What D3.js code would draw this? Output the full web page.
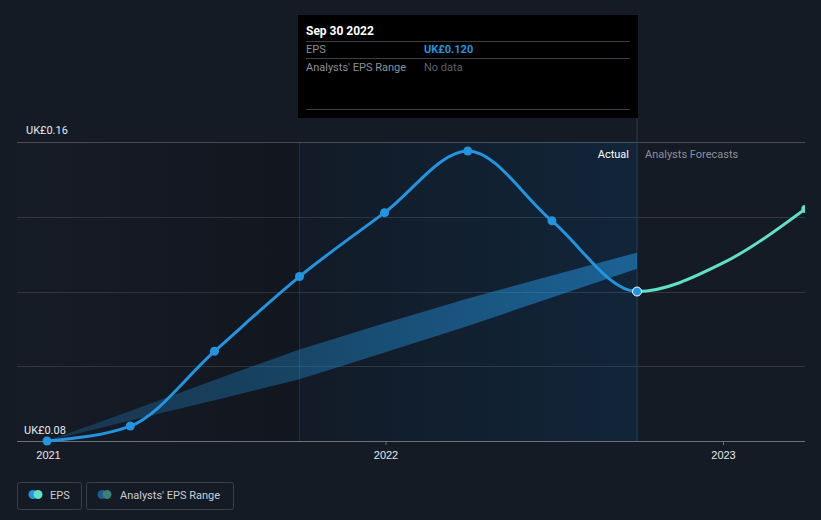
<!DOCTYPE html>
<html><head><meta charset="utf-8">
<script src="https://cdn.jsdelivr.net/npm/d3@7"></script>
<style>
html,body{margin:0;padding:0;background:#151b25;}
svg{display:block;font-family:Roboto,"Noto Sans",sans-serif;}
</style></head>
<body>
<svg id="c" width="821" height="520"></svg>
<script>
// ---- data ----
const actualDates = ["2020-12-31","2021-03-31","2021-06-30","2021-09-30","2021-12-31","2022-03-31","2022-06-30","2022-09-30"];
const actualEPS   = [0.0800, 0.0840, 0.1040, 0.1240, 0.1411, 0.1576, 0.1389, 0.1200];
const forecastDates = ["2022-09-30","2022-12-31","2023-03-31"];
const forecastEPS   = [0.1200, 0.1275, 0.1421];
const rangeDates = ["2020-12-31","2021-03-31","2021-06-30","2021-09-30","2021-12-31","2022-03-31","2022-06-30","2022-09-30"];
const rangeLow   = [0.0800, 0.0855, 0.0909, 0.0965, 0.1037, 0.1108, 0.1184, 0.1261];
const rangeHigh  = [0.0800, 0.0880, 0.0963, 0.1045, 0.1115, 0.1181, 0.1243, 0.1304];
const yTicks = [0.08, 0.10, 0.12, 0.14, 0.16];
const yTickLabels = ["UK£0.08", "UK£0.16"];
const xTickYears = ["2021","2022","2023"];
const tooltipDate = "Sep 30 2022";
const tooltipEPS = "UK£0.120";

// ---- setup ----
const P = d3.timeParse("%Y-%m-%d");
const svg = d3.select("#c");
const W = 821, H = 520;
const plotL = 17, plotR = 805, plotT = 142, plotB = 441;
const x = d3.scaleTime().domain([new Date(2021,0,1), new Date(2023,0,1)]).range([48, 723]);
const y = d3.scaleLinear().domain([0.08, 0.16]).range([plotB, plotT]);

const actual = actualDates.map((d,i)=>({d:P(d), v:actualEPS[i]}));
const forecast = forecastDates.map((d,i)=>({d:P(d), v:forecastEPS[i]}));
const allPts = actual.concat(forecast.slice(1));
const range = rangeDates.map((d,i)=>({d:P(d), lo:rangeLow[i], hi:rangeHigh[i]}));
const nowX = x(P(actualDates[actualDates.length-1]));
const shadeStartX = x(P("2021-09-30"));

svg.append("rect").attr("width",W).attr("height",H).attr("fill","#151b25");

const defs = svg.append("defs");
const g1 = defs.append("linearGradient").attr("id","gLeft").attr("x1","0").attr("x2","1").attr("y1","0").attr("y2","0");
g1.append("stop").attr("offset","0").attr("stop-color","#161c26");
g1.append("stop").attr("offset","1").attr("stop-color","#11161f");
const g2 = defs.append("linearGradient").attr("id","gMid").attr("x1","0").attr("x2","1").attr("y1","0").attr("y2","0");
g2.append("stop").attr("offset","0").attr("stop-color","#121b27");
g2.append("stop").attr("offset","1").attr("stop-color","#112539");
const g3 = defs.append("linearGradient").attr("id","gBand").attr("gradientUnits","userSpaceOnUse")
  .attr("x1", x(range[0].d)).attr("x2", nowX).attr("y1",0).attr("y2",0);
g3.append("stop").attr("offset","0").attr("stop-color","#2394df").attr("stop-opacity",0.22);
g3.append("stop").attr("offset","1").attr("stop-color","#2394df").attr("stop-opacity",0.55);
defs.append("clipPath").attr("id","clipPast").append("rect").attr("x",0).attr("y",0).attr("width",nowX).attr("height",H);
defs.append("clipPath").attr("id","clipFut").append("rect").attr("x",nowX).attr("y",0).attr("width",plotR-nowX).attr("height",H);

// background regions
svg.append("rect").attr("x",plotL).attr("y",plotT).attr("width",shadeStartX-plotL).attr("height",plotB-plotT).attr("fill","url(#gLeft)");
svg.append("rect").attr("x",shadeStartX).attr("y",plotT).attr("width",nowX-shadeStartX).attr("height",plotB-plotT).attr("fill","url(#gMid)");
svg.append("line").attr("x1",shadeStartX).attr("x2",shadeStartX).attr("y1",plotT).attr("y2",plotB).attr("stroke","#1a3048").attr("stroke-width",1);

// gridlines
svg.append("g").selectAll("line").data(yTicks.slice(1)).join("line")
  .attr("x1",plotL).attr("x2",plotR).attr("y1",d=>Math.round(y(d))+0.5).attr("y2",d=>Math.round(y(d))+0.5)
  .attr("stroke","#ffffff").attr("stroke-opacity",d=>d===0.16?0.22:0.12);

// now line
svg.append("line").attr("x1",nowX).attr("x2",nowX).attr("y1",118).attr("y2",plotB).attr("stroke","#2c3d50").attr("stroke-width",1);

// band
svg.append("path").datum(range)
  .attr("d", d3.area().x(d=>x(d.d)).y0(d=>y(d.lo)).y1(d=>y(d.hi)))
  .attr("fill","url(#gBand)");

// x axis
const xAxis = d3.axisBottom(x).tickValues(xTickYears.map(s=>new Date(+s,0,1))).tickFormat(d3.timeFormat("%Y")).tickSize(4).tickPadding(6);
const ax = svg.append("g").attr("transform",`translate(0,${plotB})`).call(xAxis);
ax.select(".domain").remove();
ax.selectAll(".tick line").attr("stroke","#6b717b");
ax.selectAll(".tick text").attr("fill","#e6e8eb").attr("font-size",11);
svg.append("line").attr("x1",plotL).attr("x2",plotR).attr("y1",plotB+0.5).attr("y2",plotB+0.5).attr("stroke","#6b717b");

// y labels
svg.append("text").attr("x",26).attr("y",y(0.16)-8).attr("fill","#e6e8eb").attr("font-size",11).text(yTickLabels[1]);
svg.append("text").attr("x",24).attr("y",y(0.08)-7).attr("fill","#e6e8eb").attr("font-size",11).text(yTickLabels[0]);

// EPS line
const line = d3.line().x(d=>x(d.d)).y(d=>y(d.v)).curve(d3.curveMonotoneX);
svg.append("path").datum(allPts).attr("d",line).attr("fill","none").attr("stroke","#2394df").attr("stroke-width",3).attr("clip-path","url(#clipPast)");
svg.append("path").datum(allPts).attr("d",line).attr("fill","none").attr("stroke","#61e0c8").attr("stroke-width",3).attr("clip-path","url(#clipFut)");
svg.append("g").attr("clip-path","url(#clipFut)").append("circle")
  .attr("cx",x(forecast[forecast.length-1].d)).attr("cy",y(forecast[forecast.length-1].v)).attr("r",4).attr("fill","#61e0c8");

svg.append("g").selectAll("circle").data(actual.slice(0,-1)).join("circle")
  .attr("cx",d=>x(d.d)).attr("cy",d=>y(d.v)).attr("r",4.5).attr("fill","#2394df");
const last = actual[actual.length-1];
svg.append("circle").attr("cx",x(last.d)).attr("cy",y(last.v)).attr("r",4.5).attr("fill","#2394df").attr("stroke","#ffffff").attr("stroke-width",1);

// Actual / Forecast labels
svg.append("text").attr("x",nowX-8).attr("y",158).attr("text-anchor","end").attr("fill","#ffffff").attr("font-size",11).text("Actual");
svg.append("text").attr("x",nowX+8).attr("y",158).attr("fill","#8a9099").attr("font-size",11).text("Analysts Forecasts");

// tooltip
const tt = svg.append("g");
tt.append("rect").attr("x",298).attr("y",15).attr("width",340).attr("height",103).attr("fill","#000000");
tt.append("text").attr("x",306).attr("y",35).attr("fill","#ffffff").attr("font-size",12).attr("font-weight","bold").text(tooltipDate);
[41.5,58.5,109.5].forEach(yy=>tt.append("line").attr("x1",306).attr("x2",630).attr("y1",yy).attr("y2",yy).attr("stroke","#3b3f45"));
tt.append("text").attr("x",306).attr("y",53).attr("fill","#8c9199").attr("font-size",11).text("EPS");
tt.append("text").attr("x",424).attr("y",53).attr("fill","#2394df").attr("font-size",11).attr("font-weight","bold").text(tooltipEPS);
tt.append("text").attr("x",306).attr("y",71).attr("fill","#8c9199").attr("font-size",11).text("Analysts' EPS Range");
tt.append("text").attr("x",424).attr("y",71).attr("fill","#5f636a").attr("font-size",11).text("No data");

// legend
const lg = svg.append("g");
lg.append("rect").attr("x",17.5).attr("y",482.5).attr("width",64).attr("height",27).attr("rx",2).attr("fill","none").attr("stroke","#3a404b");
lg.append("circle").attr("cx",33).attr("cy",494.5).attr("r",4.5).attr("fill","#2394df");
lg.append("circle").attr("cx",38).attr("cy",494.5).attr("r",4.5).attr("fill","#61e0c8");
lg.append("text").attr("x",50).attr("y",499).attr("fill","#c9cdd3").attr("font-size",11).text("EPS");
lg.append("rect").attr("x",86.5).attr("y",482.5).attr("width",147).attr("height",27).attr("rx",2).attr("fill","none").attr("stroke","#3a404b");
lg.append("circle").attr("cx",102).attr("cy",494.5).attr("r",4.5).attr("fill","#1f5a8a");
lg.append("circle").attr("cx",107).attr("cy",494.5).attr("r",4.5).attr("fill","#3b7f7a");
lg.append("text").attr("x",120).attr("y",499).attr("fill","#c9cdd3").attr("font-size",11).text("Analysts' EPS Range");
</script>
</body></html>
